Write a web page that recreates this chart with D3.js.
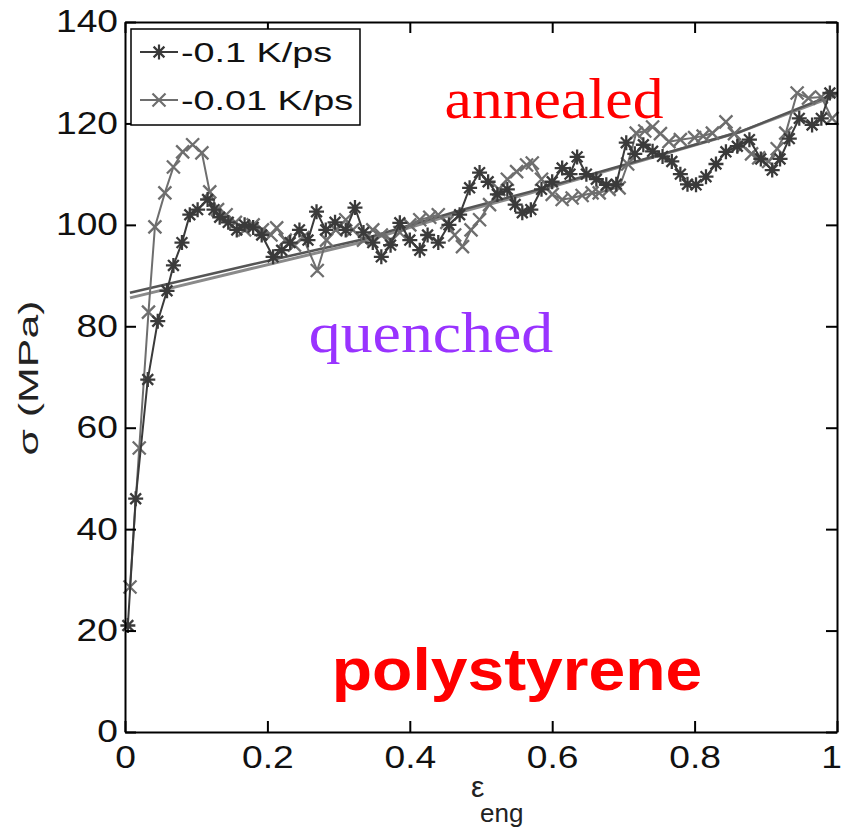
<!DOCTYPE html>
<html>
<head>
<meta charset="utf-8">
<script src="https://cdn.jsdelivr.net/npm/d3@7"></script>
<style>
  body { margin: 0; background: #fff; }
</style>
</head>
<body>
<div id="chart"></div>
<script>
// -0.1 K/ps run ('*' markers)
const strainFast = [0.004, 0.015, 0.032, 0.046, 0.059, 0.068, 0.080, 0.091, 0.102, 0.116, 0.125, 0.133, 0.145, 0.157, 0.168, 0.180, 0.192, 0.208, 0.220, 0.232, 0.245, 0.257, 0.269, 0.282, 0.295, 0.310, 0.323, 0.335, 0.348, 0.360, 0.373, 0.386, 0.400, 0.414, 0.425, 0.440, 0.455, 0.470, 0.484, 0.498, 0.510, 0.523, 0.537, 0.548, 0.558, 0.570, 0.585, 0.600, 0.614, 0.625, 0.635, 0.648, 0.662, 0.676, 0.690, 0.704, 0.716, 0.728, 0.741, 0.755, 0.768, 0.780, 0.790, 0.802, 0.816, 0.830, 0.844, 0.860, 0.877, 0.893, 0.909, 0.920, 0.933, 0.947, 0.965, 0.978, 0.990];
const stressFast = [21, 46, 69.5, 81, 87, 92, 96.5, 102, 103, 105, 103, 101.5, 100.5, 99, 100, 99.5, 98, 93.7, 95, 96.5, 99, 97, 102.6, 99, 100.5, 99, 103.4, 98.5, 96.5, 93.7, 96, 100.4, 97, 95, 98, 96.5, 100, 102, 107.3, 110.3, 108.5, 106, 107, 104, 102.4, 103, 107, 108.5, 111.2, 110, 113.4, 110, 109, 107.9, 108, 116.2, 114, 115.8, 114.5, 113.5, 112.5, 110, 108, 107.9, 109.5, 112, 114.4, 115.5, 116.8, 113, 110.8, 113, 117, 121, 119.7, 121, 126];

// -0.01 K/ps run ('x' markers)
const strainSlow = [0.007, 0.020, 0.033, 0.042, 0.056, 0.068, 0.081, 0.095, 0.108, 0.119, 0.130, 0.142, 0.155, 0.168, 0.180, 0.193, 0.205, 0.213, 0.225, 0.238, 0.250, 0.270, 0.283, 0.296, 0.310, 0.320, 0.335, 0.348, 0.360, 0.373, 0.386, 0.400, 0.414, 0.428, 0.440, 0.452, 0.463, 0.474, 0.486, 0.498, 0.512, 0.525, 0.537, 0.550, 0.564, 0.572, 0.585, 0.600, 0.614, 0.628, 0.642, 0.656, 0.666, 0.680, 0.694, 0.706, 0.718, 0.730, 0.741, 0.752, 0.764, 0.780, 0.800, 0.812, 0.825, 0.844, 0.856, 0.868, 0.880, 0.890, 0.904, 0.916, 0.928, 0.944, 0.960, 0.978, 0.993];
const stressSlow = [28.6, 56, 82.8, 99.6, 106.3, 111.4, 114.4, 115.8, 114.2, 106.5, 103, 102, 100.5, 99, 100, 99, 98, 99.4, 97, 96, 97.5, 91, 97, 99, 101, 99, 97, 99, 98, 97, 98.5, 100, 101, 101.5, 102, 100.5, 98, 95.7, 99, 101, 104, 107, 109, 110.5, 111.8, 112.2, 109, 106, 105, 105.3, 105.8, 106.3, 106.3, 107, 107.3, 112, 118.1, 118.5, 119.3, 118, 116.4, 116.8, 117.2, 117.5, 118.1, 120.3, 118, 115.5, 114, 113.2, 112.5, 115, 118.1, 126, 125, 125.2, 121];

// straight trend lines (no markers)
const trendStrain = [0.007, 0.175, 0.330, 0.474, 0.568, 0.863, 1.0];
const trendStressA = [86.6, 92.1, 97.0, 103.0, 106.5, 118.3, 126.0];
const trendStressB = [85.6, 91.3, 96.5, 102.6, 106.2, 118.3, 125.6];

const xTicks = [0, 0.2, 0.4, 0.6, 0.8, 1];
const yTicks = [0, 20, 40, 60, 80, 100, 120, 140];
const legendLabels = ["-0.1 K/ps", "-0.01 K/ps"];

const W = 843, H = 832;
const margin = { top: 22, right: 6, bottom: 100, left: 125 };
const width = W - margin.left - margin.right,
      height = H - margin.top - margin.bottom;

const colFast = "#3a3a3a", colSlow = "#6e6e6e";
const tickFont = "'Liberation Sans', Arial, sans-serif";

const svg = d3.select("#chart").append("svg")
    .attr("width", W)
    .attr("height", H);

const g = svg.append("g")
    .attr("transform", "translate(" + margin.left + "," + margin.top + ")");

const x = d3.scaleLinear().domain([0, 1]).range([0, width]);
const y = d3.scaleLinear().domain([0, 140]).range([height, 0]);

// marker shapes
function starPath(r) {
  const d = r * 0.72;
  return "M" + (-r) + ",0L" + r + ",0M0," + (-r) + "L0," + r +
         "M" + (-d) + "," + (-d) + "L" + d + "," + d + "M" + (-d) + "," + d + "L" + d + "," + (-d);
}
function crossPath(r) {
  return "M" + (-r) + "," + (-r) + "L" + r + "," + r + "M" + (-r) + "," + r + "L" + r + "," + (-r);
}

const line = d3.line().x(d => x(d[0])).y(d => y(d[1]));

// trend lines
g.append("path")
    .datum(d3.zip(trendStrain, trendStressB))
    .attr("d", line).attr("fill", "none")
    .attr("stroke", "#8a8a8a").attr("stroke-width", 3);
g.append("path")
    .datum(d3.zip(trendStrain, trendStressA))
    .attr("d", line).attr("fill", "none")
    .attr("stroke", "#555").attr("stroke-width", 2.5);

// series
const series = [
  { xs: strainSlow, ys: stressSlow, color: colSlow, shape: crossPath(6.5) },
  { xs: strainFast, ys: stressFast, color: colFast, shape: starPath(7.5) }
];

series.forEach(s => {
  const pts = d3.zip(s.xs, s.ys);
  g.append("path")
      .datum(pts)
      .attr("d", line)
      .attr("fill", "none")
      .attr("stroke", s.color)
      .attr("stroke-width", 2);
  g.selectAll(null)
    .data(pts)
    .enter().append("path")
      .attr("transform", d => "translate(" + x(d[0]) + "," + y(d[1]) + ")")
      .attr("d", s.shape)
      .attr("fill", "none")
      .attr("stroke", s.color)
      .attr("stroke-width", 2.3);
});

// axes (MATLAB style box, ticks inward)
const sx = 1.2;
const xAxis = g.append("g")
    .attr("transform", "translate(0," + height + ")")
    .call(d3.axisBottom(x).tickValues(xTicks).tickSizeInner(-11).tickSizeOuter(0).tickPadding(14).tickFormat(d3.format("")));
const yAxis = g.append("g")
    .call(d3.axisLeft(y).tickValues(yTicks).tickSizeInner(-11).tickSizeOuter(0).tickPadding(6).tickFormat(d3.format("")));
g.append("g")
    .call(d3.axisTop(x).tickValues(xTicks).tickSizeInner(-11).tickSizeOuter(0).tickFormat(""));
g.append("g")
    .attr("transform", "translate(" + width + ",0)")
    .call(d3.axisRight(y).tickValues(yTicks).tickSizeInner(-11).tickSizeOuter(0).tickFormat(""));

g.selectAll(".domain").attr("stroke", "#000").attr("stroke-width", 2);
g.selectAll(".tick line").attr("stroke", "#000").attr("stroke-width", 2);
g.selectAll(".tick text")
    .attr("font-family", tickFont)
    .attr("font-size", 31)
    .attr("fill", "#111");
xAxis.selectAll(".tick text")
    .attr("x", d => d === 1 ? -5 : 0)
    .attr("transform", "scale(" + sx + ",1)");
yAxis.selectAll(".tick text")
    .attr("x", -7 / sx)
    .attr("transform", "scale(" + sx + ",1)");

// axis titles
svg.append("text")
    .attr("transform", "translate(38," + 378 + ") rotate(-90)")
    .attr("text-anchor", "middle")
    .attr("font-family", tickFont)
    .attr("font-size", 28)
    .attr("fill", "#222")
    .attr("textLength", 155)
    .attr("lengthAdjust", "spacingAndGlyphs")
    .text("σ (MPa)");

svg.append("text")
    .attr("x", 471).attr("y", 797)
    .attr("font-family", tickFont)
    .attr("font-size", 30)
    .attr("fill", "#222")
    .text("ε");
svg.append("text")
    .attr("x", 480).attr("y", 822)
    .attr("font-family", tickFont)
    .attr("font-size", 26)
    .attr("fill", "#222")
    .text("eng");

// legend
const leg = svg.append("g");
leg.append("rect")
    .attr("x", 131).attr("y", 29).attr("width", 229).attr("height", 96)
    .attr("fill", "#fff").attr("stroke", "#000").attr("stroke-width", 1.5);
const legRows = [
  { label: legendLabels[0], color: colFast, shape: starPath(7.5), cy: 52 },
  { label: legendLabels[1], color: colSlow, shape: crossPath(6.5), cy: 100 }
];
legRows.forEach(r => {
  leg.append("line")
      .attr("x1", 140).attr("x2", 178).attr("y1", r.cy).attr("y2", r.cy)
      .attr("stroke", r.color).attr("stroke-width", 2);
  leg.append("path")
      .attr("transform", "translate(159," + r.cy + ")")
      .attr("d", r.shape).attr("fill", "none")
      .attr("stroke", r.color).attr("stroke-width", 2.2);
  leg.append("text")
      .attr("transform", "translate(181," + (r.cy + 10) + ") scale(1.4,1)")
      .attr("font-family", tickFont)
      .attr("font-size", 27)
      .attr("fill", "#111")
      .text(r.label);
});

// annotations
svg.append("text")
    .attr("transform", "translate(554,118) scale(1.1,1)")
    .attr("text-anchor", "middle")
    .attr("font-family", "'Liberation Serif', 'Times New Roman', serif")
    .attr("font-size", 56)
    .attr("fill", "#ff0000")
    .text("annealed");
svg.append("text")
    .attr("transform", "translate(431,352) scale(1.1,1)")
    .attr("text-anchor", "middle")
    .attr("font-family", "'Liberation Serif', 'Times New Roman', serif")
    .attr("font-size", 58)
    .attr("fill", "#9933ff")
    .text("quenched");
svg.append("text")
    .attr("transform", "translate(517,690) scale(1.1,1)")
    .attr("text-anchor", "middle")
    .attr("font-family", tickFont)
    .attr("font-weight", "bold")
    .attr("font-size", 60)
    .attr("fill", "#ff0000")
    .text("polystyrene");
</script>
</body>
</html>
